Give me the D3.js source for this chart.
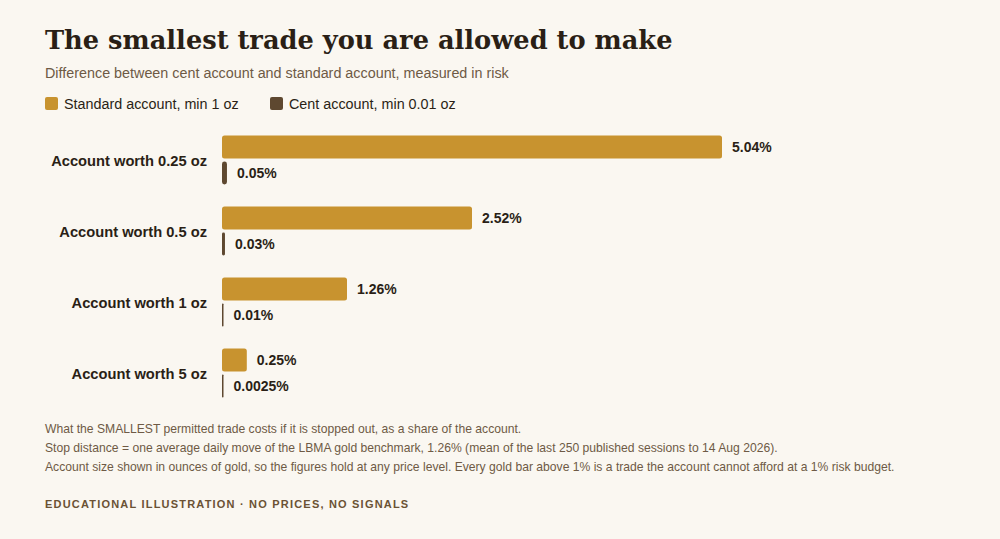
<!DOCTYPE html>
<html><head><meta charset="utf-8">
<script src="https://cdn.jsdelivr.net/npm/d3@7"></script>
<style>
html,body{margin:0;padding:0;background:#faf7f1;}
svg{display:block;}
</style></head>
<body>
<svg id="c" width="1000" height="539"></svg>
<script>
const categories = ["Account worth 0.25 oz","Account worth 0.5 oz","Account worth 1 oz","Account worth 5 oz"];
const seriesNames = ["Standard account, min 1 oz","Cent account, min 0.01 oz"];
const standardValues = [5.04, 2.52, 1.26, 0.25];
const centValues = [0.05, 0.03, 0.01, 0.0025];
const standardLabels = ["5.04%","2.52%","1.26%","0.25%"];
const centLabels = ["0.05%","0.03%","0.01%","0.0025%"];
const notes = [
 "What the SMALLEST permitted trade costs if it is stopped out, as a share of the account.",
 "Stop distance = one average daily move of the LBMA gold benchmark, 1.26% (mean of the last 250 published sessions to 14 Aug 2026).",
 "Account size shown in ounces of gold, so the figures hold at any price level. Every gold bar above 1% is a trade the account cannot afford at a 1% risk budget."
];
const colors = ["#c8932f","#5e4830"];

const svg = d3.select("#c");
const sans = "'Liberation Sans', Arial, Helvetica, sans-serif";
svg.append("rect").attr("width",1000).attr("height",539).attr("fill","#faf7f1");

svg.append("text").attr("x",45).attr("y",49).text("The smallest trade you are allowed to make")
  .attr("font-family","'DejaVu Serif', serif").attr("font-weight","bold").attr("font-size",25.7).attr("fill","#2a1f16");
svg.append("text").attr("x",45).attr("y",78).text("Difference between cent account and standard account, measured in risk")
  .attr("font-family",sans).attr("font-size",14.35).attr("fill","#6e5a45");

const legX = [45, 270];
seriesNames.forEach((n,i)=>{
  svg.append("rect").attr("x",legX[i]).attr("y",97).attr("width",13).attr("height",13).attr("rx",2).attr("fill",colors[i]);
  svg.append("text").attr("x",legX[i]+19).attr("y",109).text(n).attr("font-family",sans).attr("font-size",14.35).attr("fill","#2a1f16");
});

const x = d3.scaleLinear().domain([0, d3.max(standardValues)]).range([222, 722]);
const y = d3.scaleBand().domain(categories).range([125, 409]).paddingInner(0).paddingOuter(0);
const sub = d3.scaleBand().domain([0,1]).range([0,49]).paddingInner(0.12);

const g = svg.append("g");
categories.forEach((c,i)=>{
  const cy = y(c) + y.bandwidth()/2;
  const top = cy - 25;
  g.append("text").attr("x",207).attr("y",cy).attr("dy","0.35em").attr("text-anchor","end")
    .text(c).attr("font-family",sans).attr("font-weight","bold").attr("font-size",14.7).attr("fill","#2a1f16");
  [[standardValues,standardLabels],[centValues,centLabels]].forEach(([vals,labs],k)=>{
    const w = Math.max(x(vals[i]) - x(0), 1.5);
    const by = top + sub(k);
    g.append("rect").attr("x",x(0)).attr("y",by).attr("width",w).attr("height",sub.bandwidth())
      .attr("rx",Math.min(2.5,w/2)).attr("fill",colors[k]);
    g.append("text").attr("x",x(0)+w+10).attr("y",by+sub.bandwidth()/2).attr("dy","0.35em")
      .text(labs[i]).attr("font-family",sans).attr("font-weight","bold").attr("font-size",14).attr("fill","#2a1f16");
  });
});

notes.forEach((t,i)=>{
  svg.append("text").attr("x",45).attr("y",433+i*19).text(t).attr("font-family",sans).attr("font-size",12.15).attr("fill","#6e5a45");
});
svg.append("text").attr("x",45).attr("y",508).text("EDUCATIONAL ILLUSTRATION · NO PRICES, NO SIGNALS")
  .attr("font-family",sans).attr("font-weight","bold").attr("font-size",11).attr("letter-spacing","1.2px").attr("fill","#6b5234");
</script>
</body></html>
